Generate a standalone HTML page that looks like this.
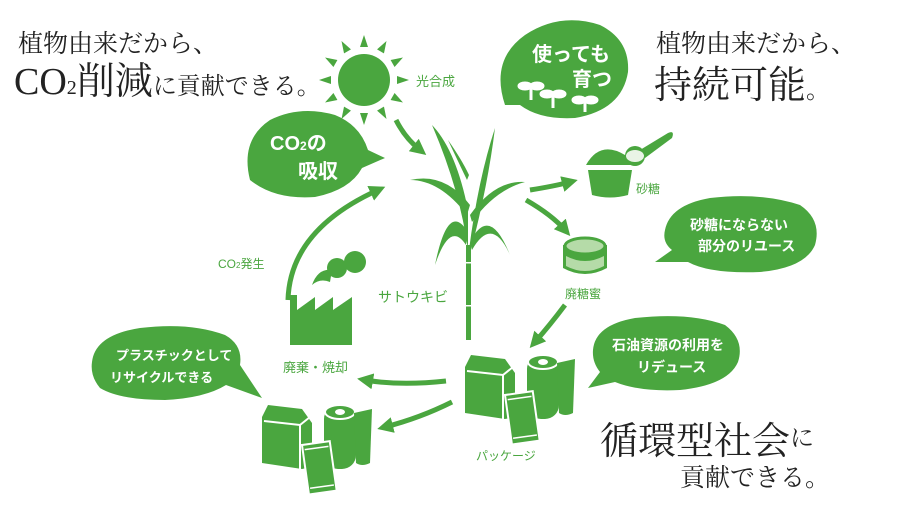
<!DOCTYPE html>
<html><head><meta charset="utf-8"><style>
html,body{margin:0;padding:0;background:#fff;width:900px;height:520px;overflow:hidden}
svg{display:block}
.s{font-family:"Liberation Serif","Noto Serif CJK SC",serif;fill:#222}
.g{font-family:"Liberation Sans","Noto Sans CJK JP",sans-serif;fill:#4aa63f}
.w{font-family:"Liberation Sans","Noto Sans CJK JP",sans-serif;fill:#fff;font-weight:bold}
</style></head><body>
<svg width="900" height="520" viewBox="0 0 900 520">
<defs>
<marker id="ah" viewBox="0 0 10 10" refX="5" refY="5" markerWidth="3.2" markerHeight="3.2" orient="auto"><path d="M0,0 L10,5 L0,10 z" fill="#4aa63f"/></marker>
<g id="pk">
 <path d="M0,12 L6,0 L40,4 L50,18 L50,62 L40,64 L0,58 z" fill="#4aa63f"/>
 <path d="M2,16 L38,20 L48,12" stroke="#fff" stroke-width="2" fill="none"/>
 <line x1="38" y1="20" x2="38" y2="64" stroke="#fff" stroke-width="2"/>
 <rect x="62" y="0" width="32" height="64" rx="14" fill="#4aa63f"/>
 <ellipse cx="78" cy="7" rx="15" ry="7" fill="#4aa63f" stroke="#fff" stroke-width="2"/>
 <ellipse cx="78" cy="7" rx="5" ry="3" fill="#fff"/>
 <path d="M92,8 L110,4 L108,58 Q100,62 94,58 z" fill="#4aa63f"/>
 <g transform="translate(40,40) rotate(-8)"><rect x="0" y="0" width="28" height="50" fill="#4aa63f" stroke="#fff" stroke-width="2"/><line x1="2" y1="5" x2="26" y2="5" stroke="#fff" stroke-width="1.5"/><line x1="2" y1="44" x2="26" y2="44" stroke="#fff" stroke-width="1.5"/></g>
</g>
</defs>
<text x="18" y="52" class="s" font-size="25">植物由来だから、</text>
<text x="14" y="94" class="s" font-size="38">CO<tspan font-size="20">2</tspan>削減<tspan font-size="24">に貢献できる。</tspan></text>
<text x="656" y="52" class="s" font-size="25">植物由来だから、</text>
<text x="654" y="98" class="s" font-size="38">持続可能<tspan font-size="24">。</tspan></text>
<text x="600" y="454" class="s" font-size="38">循環型社会</text>
<text x="790" y="446" class="s" font-size="24">に</text>
<text x="680" y="486" class="s" font-size="25">貢献できる。</text>
<g fill="#4aa63f">
<circle cx="364" cy="80" r="26"/>
<g transform="translate(364,80)">
<path d="M-4,-33 L0,-45 L4,-33z"/><path d="M-4,-33 L0,-45 L4,-33z" transform="rotate(30)"/><path d="M-4,-33 L0,-45 L4,-33z" transform="rotate(60)"/><path d="M-4,-33 L0,-45 L4,-33z" transform="rotate(90)"/><path d="M-4,-33 L0,-45 L4,-33z" transform="rotate(120)"/><path d="M-4,-33 L0,-45 L4,-33z" transform="rotate(150)"/><path d="M-4,-33 L0,-45 L4,-33z" transform="rotate(180)"/><path d="M-4,-33 L0,-45 L4,-33z" transform="rotate(210)"/><path d="M-4,-33 L0,-45 L4,-33z" transform="rotate(240)"/><path d="M-4,-33 L0,-45 L4,-33z" transform="rotate(270)"/><path d="M-4,-33 L0,-45 L4,-33z" transform="rotate(300)"/><path d="M-4,-33 L0,-45 L4,-33z" transform="rotate(330)"/>
</g></g>
<text x="416" y="86" class="g" font-size="13">光合成</text>
<g fill="#4aa63f">
<path d="M505,105 Q490,60 525,35 Q560,12 600,25 Q630,40 628,72 Q622,110 575,118 Q540,120 520,105 z"/>
<path d="M250,180 Q240,140 270,120 Q300,105 335,115 Q360,125 368,150 L385,158 L362,168 Q350,190 315,197 Q275,200 250,180 z"/>
<path d="M665,230 Q670,205 710,198 Q760,192 800,205 Q822,220 815,245 Q805,268 760,272 Q710,274 688,262 L655,262 L672,250 Q662,242 665,230 z"/>
<path d="M593,350 Q595,325 635,318 Q690,312 725,325 Q745,340 738,362 Q728,385 680,390 Q640,392 615,382 L588,388 L600,372 Q592,362 593,350 z"/>
<path d="M92,362 Q95,335 140,328 Q190,322 225,335 Q243,345 240,365 L262,398 L226,385 Q205,398 165,400 Q120,400 100,388 Q90,376 92,362 z"/>
</g>
<text x="532" y="61" class="w" font-size="20">使っても</text>
<text x="572" y="86" class="w" font-size="20">育つ</text>
<g stroke="#fff" stroke-width="3" fill="#fff">
<line x1="531" y1="88" x2="531" y2="100"/><ellipse cx="525" cy="86" rx="6" ry="3"/><ellipse cx="537" cy="86" rx="6" ry="3"/>
<line x1="553" y1="96" x2="553" y2="108"/><ellipse cx="547" cy="94" rx="6" ry="3"/><ellipse cx="559" cy="94" rx="6" ry="3"/>
<line x1="585" y1="102" x2="585" y2="112"/><ellipse cx="579" cy="100" rx="6" ry="3"/><ellipse cx="591" cy="100" rx="6" ry="3"/>
</g>
<text x="270" y="150" class="w" font-size="20">CO<tspan font-size="12">2</tspan>の</text>
<text x="298" y="178" class="w" font-size="20">吸収</text>
<text x="690" y="230" class="w" font-size="14">砂糖にならない</text>
<text x="698" y="251" class="w" font-size="14">部分のリユース</text>
<text x="612" y="350" class="w" font-size="14">石油資源の利用を</text>
<text x="637" y="372" class="w" font-size="14">リデュース</text>
<text x="116" y="360" class="w" font-size="13">プラスチックとして</text>
<text x="110" y="382" class="w" font-size="13">リサイクルできる</text>
<g stroke="#4aa63f" stroke-width="5" fill="none" marker-end="url(#ah)">
<path d="M396,120 Q405,138 420,150"/>
<path d="M530,190 Q555,186 570,182"/>
<path d="M526,200 Q552,215 565,230"/>
<path d="M565,305 Q550,325 535,342"/>
<path d="M446,381 Q400,386 365,380"/>
<path d="M452,402 Q420,418 385,427"/>
<path d="M288,300 Q290,230 378,190"/>
</g>
<g fill="#4aa63f">
<rect x="466" y="245" width="5" height="95"/>
<path d="M468,250 Q460,190 432,125 Q456,150 468,210 z"/>
<path d="M469,250 Q478,180 495,128 Q488,185 471,250 z"/>
<path d="M467,215 Q440,180 410,180 Q445,172 470,205 z"/>
<path d="M470,215 Q495,180 525,182 Q495,190 472,222 z"/>
<path d="M466,245 Q450,220 435,265 Q448,200 468,232 z"/>
<path d="M471,240 Q490,205 510,255 Q492,215 472,250 z"/>
<path d="M467,180 Q455,155 448,140 Q462,160 469,175z"/>
</g>
<rect x="466" y="262" width="5" height="1.5" fill="#fff"/><rect x="466" y="305" width="5" height="1.5" fill="#fff"/>
<text x="378" y="302" class="g" font-size="14">サトウキビ</text>
<g fill="#4aa63f">
<path d="M588,170 L632,170 L628,195 Q610,200 592,195 z"/>
<path d="M586,165 Q600,140 625,155 L634,165 z"/>
<circle cx="635" cy="156" r="10"/><path d="M640,150 L668,133 Q675,130 672,138 L645,158z"/>
</g>
<ellipse cx="635" cy="156" rx="9" ry="6" fill="#e9f4e6"/>
<text x="636" y="193" class="g" font-size="12">砂糖</text>
<path d="M563,245 L563,268 Q585,280 607,268 L607,245 z" fill="#4aa63f"/>
<ellipse cx="585" cy="246" rx="20" ry="8" fill="#b5dba8" stroke="#4aa63f" stroke-width="3"/>
<path d="M566,256 Q585,266 604,256 L604,266 Q585,276 566,266z" fill="#b5dba8"/>
<text x="565" y="298" class="g" font-size="12">廃糖蜜</text>
<g fill="#4aa63f">
<path d="M290,345 L290,295 L297,295 L297,310 L315,297 L315,310 L333,297 L333,310 L352,297 L352,345 z"/>
<circle cx="355" cy="262" r="11"/><circle cx="337" cy="268" r="10"/><path d="M312,285 Q318,268 332,270 L330,282 Q320,278 312,285z"/>
</g>
<text x="218" y="268" class="g" font-size="12">CO<tspan font-size="8">2</tspan>発生</text>
<text x="283" y="372" class="g" font-size="13">廃棄・焼却</text>
<use href="#pk" x="465" y="355"/>
<use href="#pk" x="262" y="405"/>
<text x="476" y="460" class="g" font-size="12">パッケージ</text>
</svg>
</body></html>
